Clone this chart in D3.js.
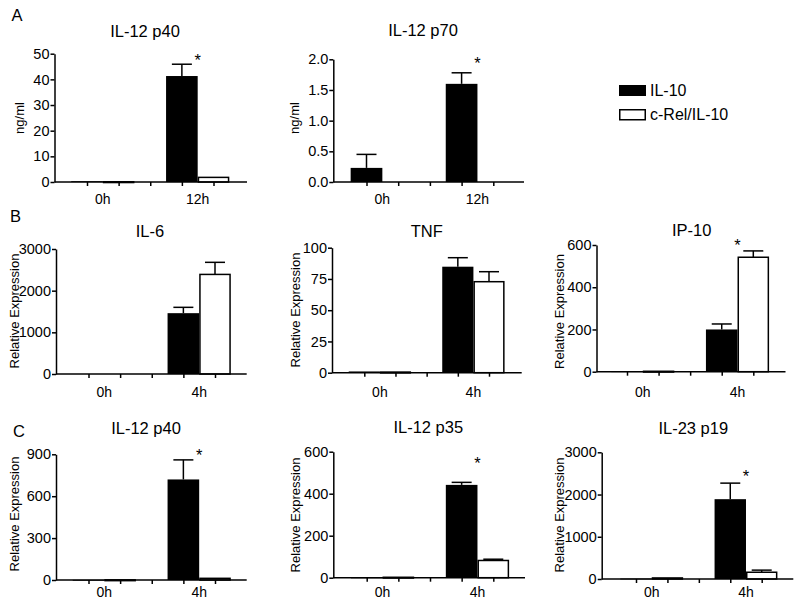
<!DOCTYPE html>
<html>
<head>
<meta charset="utf-8">
<script src="https://cdn.jsdelivr.net/npm/d3@7/dist/d3.min.js"></script>
<style>
  html, body { margin: 0; padding: 0; background: #fff; }
  svg { display: block; font-family: "Liberation Sans", Arial, Helvetica, sans-serif; }
</style>
</head>
<body>
<svg id="chart" width="800" height="606"></svg>
<script>
// ---------------- DATA ----------------
const seriesNames = ["IL-10", "c-Rel/IL-10"];
const panelTitles = ["IL-12 p40", "IL-12 p70", "IL-6", "TNF", "IP-10", "IL-12 p40", "IL-12 p35", "IL-23 p19"];
const panelYLabels = ["ng/ml", "ng/ml", "Relative Expression", "Relative Expression", "Relative Expression",
                      "Relative Expression", "Relative Expression", "Relative Expression"];
const timeLabelsA = ["0h", "12h"];
const timeLabelsBC = ["0h", "4h"];
const rowLetters = ["A", "B", "C"];

// mean values [0h, late]
const il10Means = [[0.3, 41.3], [0.23, 1.6], [0, 1460], [1, 84.8], [2, 200], [1, 720], [1, 442], [10, 1890]];
const il10Errs  = [[0, 4.6],    [0.22, 0.18], [0, 140], [0, 7.2],  [0, 26],  [0, 140], [0, 12],  [0, 380]];
const crelMeans = [[0.1, 1.8],  [0, 0],     [0, 2390], [0.5, 72.8], [2, 542], [1, 12], [2, 82],  [25, 160]];
const crelErrs  = [[0, 0],      [0, 0],     [0, 290],  [0, 8],     [0, 30],  [0, 0],   [0, 6],   [0, 50]];

const yTickValues = [
  [0, 10, 20, 30, 40, 50],
  [0, 0.5, 1.0, 1.5, 2.0],
  [0, 1000, 2000, 3000],
  [0, 25, 50, 75, 100],
  [0, 200, 400, 600],
  [0, 300, 600, 900],
  [0, 200, 400, 600],
  [0, 1000, 2000, 3000]
];
const yTickDecimals = [0, 1, 0, 0, 0, 0, 0, 0];
// significance star height (data units) above the late group, null = none
const starValues = [48.7, 1.99, null, null, 615, 918, 560, 2510];

// ---------------- LAYOUT ----------------
const layout = [
  {ax: 54.5,  t1: 87,    t5: 213.5, end: 247,   top: 53.7,  zero: 182,   row: 0, tx: 145,   ty: 37,   lx: 19.5,  ly: 118},
  {ax: 333.3, t1: 366.5, t5: 493.3, end: 524,   top: 59.3,  zero: 182,   row: 0, tx: 423,   ty: 36,   lx: 294.5, ly: 118},
  {ax: 56,    t1: 88.5,  t5: 215,   end: 246.7, top: 249,   zero: 374,   row: 1, tx: 150,   ty: 236.5, lx: 14.5, ly: 311},
  {ax: 332,   t1: 364.3, t5: 489,   end: 521.7, top: 247.7, zero: 372.7, row: 1, tx: 426.7, ty: 236.5, lx: 295.5, ly: 310},
  {ax: 596.5, t1: 627,   t5: 753.3, end: 785.5, top: 245,   zero: 371.7, row: 1, tx: 691.7, ty: 236,  lx: 559.5, ly: 311.5},
  {ax: 56,    t1: 88.5,  t5: 215,   end: 246.7, top: 454.3, zero: 580,   row: 2, tx: 146,   ty: 434,  lx: 14.5,  ly: 514},
  {ax: 333.3, t1: 366.7, t5: 493.3, end: 525,   top: 451.7, zero: 577.7, row: 2, tx: 428.3, ty: 433,  lx: 295.5, ly: 515},
  {ax: 601.7, t1: 636,   t5: 761.7, end: 793.3, top: 452.3, zero: 579,   row: 2, tx: 693.3, ty: 433.5, lx: 559,  ly: 515}
];
const rowLabelBaseline = [204, 397, 597];
const letterPos = [{x: 11.5, y: 21}, {x: 10, y: 222}, {x: 13, y: 437}];

// ---------------- DRAW ----------------
const svg = d3.select("#chart");
const FONT = "'Liberation Sans', Arial, Helvetica, sans-serif";

rowLetters.forEach((L, i) => {
  svg.append("text").attr("x", letterPos[i].x).attr("y", letterPos[i].y)
    .attr("font-size", 16.5).attr("fill", "#000").text(L);
});

panelTitles.forEach((title, p) => {
  const lay = layout[p];
  const g = svg.append("g");
  const yMax = d3.max(yTickValues[p]);
  const y = d3.scaleLinear().domain([0, yMax]).range([lay.zero, lay.top]);
  const x = d3.scaleLinear().domain([1, 5]).range([lay.t1, lay.t5]);
  const slotW = x(2) - x(1);
  const times = lay.row === 0 ? timeLabelsA : timeLabelsBC;

  const bars = [];
  [0, 1].forEach(gi => {
    bars.push({slot: gi * 3 + 1, v: il10Means[p][gi], e: il10Errs[p][gi], s: 0});
    bars.push({slot: gi * 3 + 2, v: crelMeans[p][gi], e: crelErrs[p][gi], s: 1});
  });

  bars.filter(d => d.e > 0).forEach(d => {
    const cx = x(d.slot);
    g.append("line").attr("x1", cx).attr("x2", cx)
      .attr("y1", y(d.v)).attr("y2", y(d.v + d.e))
      .attr("stroke", "#000").attr("stroke-width", 1.5);
    g.append("line").attr("x1", cx - 10).attr("x2", cx + 10)
      .attr("y1", y(d.v + d.e)).attr("y2", y(d.v + d.e))
      .attr("stroke", "#000").attr("stroke-width", 1.5);
  });

  g.selectAll("rect.bar").data(bars.filter(d => d.v > 0)).enter().append("rect")
    .attr("class", "bar")
    .attr("x", d => x(d.slot) - slotW / 2 + (d.s === 1 ? 0.75 : 0))
    .attr("width", d => slotW - (d.s === 1 ? 1.5 : 0))
    .attr("y", d => y(d.v))
    .attr("height", d => Math.max(0.8, y(0) - y(d.v)))
    .attr("fill", d => d.s === 0 ? "#000" : "#fff")
    .attr("stroke", d => d.s === 0 ? "none" : "#000")
    .attr("stroke-width", 1.5);

  const fmt = d3.format("." + yTickDecimals[p] + "f");
  const ya = g.append("g").attr("transform", `translate(${lay.ax},0)`)
    .call(d3.axisLeft(y).tickValues(yTickValues[p]).tickFormat(fmt).tickSize(4).tickSizeOuter(0).tickPadding(1));
  ya.select(".domain").attr("stroke-width", 1.5);
  ya.selectAll(".tick line").attr("stroke-width", 1.5);
  ya.selectAll("text").attr("font-size", 14.5).attr("font-family", FONT).attr("fill", "#000");

  const xa = g.append("g").attr("transform", `translate(0,${lay.zero})`)
    .call(d3.axisBottom(x).tickValues([1, 2, 3, 4, 5]).tickFormat("").tickSize(4).tickSizeOuter(0));
  xa.select(".domain").attr("d", `M${lay.ax},0H${lay.end}`).attr("stroke-width", 1.5);
  xa.selectAll(".tick line").attr("stroke-width", 1.5);

  times.forEach((t, gi) => {
    g.append("text").attr("x", x(gi * 3 + 1.5)).attr("y", rowLabelBaseline[lay.row])
      .attr("text-anchor", "middle").attr("font-size", 14).attr("fill", "#000").text(t);
  });

  g.append("text").attr("x", lay.tx).attr("y", lay.ty).attr("text-anchor", "middle")
    .attr("font-size", 16.5).attr("fill", "#000").text(title);

  g.append("text").attr("transform", `translate(${lay.lx},${lay.ly}) rotate(-90)`)
    .attr("text-anchor", "middle").attr("dy", "0.35em")
    .attr("font-size", 13).attr("fill", "#000").text(panelYLabels[p]);

  if (starValues[p] !== null) {
    g.append("text").attr("x", x(4.5)).attr("y", y(starValues[p]))
      .attr("dy", "0.55em")
      .attr("text-anchor", "middle").attr("font-size", 16.5).attr("fill", "#000").text("*");
  }
});

const legend = svg.append("g").attr("transform", "translate(619,85)");
seriesNames.forEach((name, i) => {
  legend.append("rect").attr("x", i === 0 ? 0 : 0.75).attr("y", i * 24 + (i === 0 ? 0 : 0.75))
    .attr("width", i === 0 ? 27 : 25.5).attr("height", i === 0 ? 11 : 10)
    .attr("fill", i === 0 ? "#000" : "#fff")
    .attr("stroke", i === 0 ? "none" : "#000").attr("stroke-width", 1.5);
  legend.append("text").attr("x", 31).attr("y", i * 24 + 10.5)
    .attr("font-size", 16).attr("fill", "#000").text(name);
});
</script>
</body>
</html>
